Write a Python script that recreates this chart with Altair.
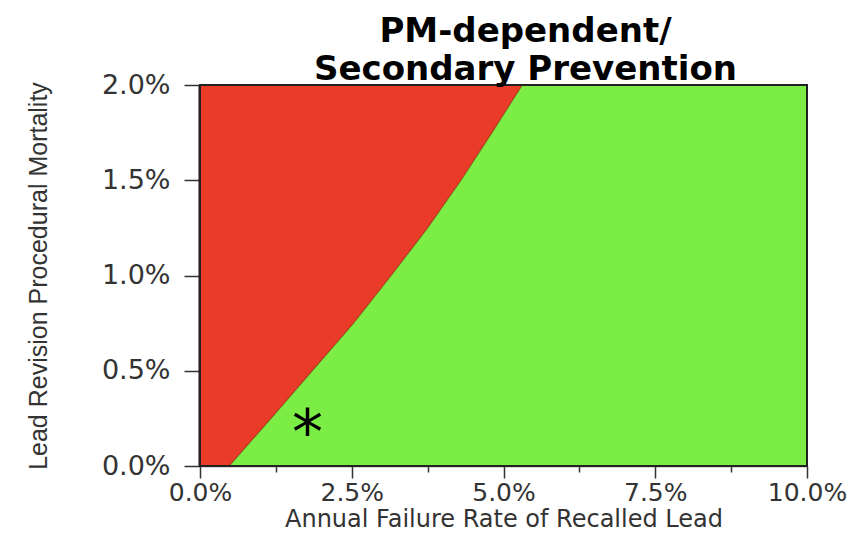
import altair as alt
import pandas as pd

# Boundary between the two regions
mortality = [0.0, 0.0025, 0.005, 0.0075, 0.010, 0.0125, 0.015, 0.0175, 0.020]
failure_boundary = [0.0048, 0.0117, 0.0185, 0.0253, 0.0315, 0.0375, 0.0430, 0.0481, 0.0531]

# Base-case marker
star_x = [0.0177]
star_y = [0.00215]
star_text = ["*"]

# Plot extent
x_range = [0.0, 0.10]
y_range = [0.0, 0.02]

x_ticks = [0.0, 0.0125, 0.025, 0.0375, 0.05, 0.0625, 0.075, 0.0875, 0.10]
y_ticks = [0.0, 0.005, 0.010, 0.015, 0.020]

RED = "#E93B28"
GREEN = "#7BED44"

bdf = pd.DataFrame({"mort": mortality, "fail": failure_boundary, "zero": [0.0] * len(mortality)})
sdf = pd.DataFrame({"x": star_x, "y": star_y, "t": star_text})
rdf = pd.DataFrame({"x": [x_range[0]], "x2": [x_range[1]], "y": [y_range[0]], "y2": [y_range[1]]})

xscale = alt.Scale(domain=x_range, nice=False, zero=False)
yscale = alt.Scale(domain=y_range, nice=False, zero=False)

xaxis = alt.Axis(
    title="Annual Failure Rate of Recalled Lead",
    values=x_ticks,
    format=".1%",
    labelExpr="(round(datum.value*400) % 10 == 0) ? datum.label : ''",
    tickSize={"condition": {"test": "round(datum.value*400) % 10 == 0", "value": 12}, "value": 6},
    labelPadding=2,
    labelFlush=False,
    labelOverlap=False,
    labelFont="DejaVu Sans",
    labelFontSize=25,
    labelColor="#333333",
    titleFont="DejaVu Sans",
    titleFontSize=24,
    titleFontWeight="normal",
    titleColor="#333333",
    titlePadding=2,
    tickColor="#333333",
    tickWidth=1.5,
    domainColor="#666666",
    domainWidth=1.5,
    grid=False,
)

yaxis = alt.Axis(
    title="Lead Revision Procedural Mortality",
    values=y_ticks,
    format=".1%",
    tickSize=16,
    labelPadding=14,
    labelFlush=False,
    labelOverlap=False,
    labelFont="DejaVu Sans",
    labelFontSize=27,
    labelColor="#333333",
    titleFont="Liberation Sans",
    titleFontSize=25,
    titleFontWeight="normal",
    titleColor="#333333",
    titlePadding=50,
    tickColor="#333333",
    tickWidth=1.5,
    domainColor="#3a1008",
    domainWidth=4,
    grid=False,
)

green = alt.Chart(rdf).mark_rect(color=GREEN).encode(
    x=alt.X("x:Q", scale=xscale, axis=xaxis),
    x2="x2:Q",
    y=alt.Y("y:Q", scale=yscale, axis=yaxis),
    y2="y2:Q",
)

red = alt.Chart(bdf).mark_area(orient="horizontal", color=RED, interpolate="linear").encode(
    y=alt.Y("mort:Q", scale=yscale),
    x=alt.X("fail:Q", scale=xscale),
    x2="zero:Q",
)

edge = alt.Chart(bdf).mark_line(color="#7a2a10", strokeWidth=1.2, opacity=0.5).encode(
    y=alt.Y("mort:Q", scale=yscale),
    x=alt.X("fail:Q", scale=xscale),
    order="mort:Q",
)

outline = alt.Chart(rdf).mark_rect(fillOpacity=0, stroke="#222222", strokeWidth=2).encode(
    x=alt.X("x:Q", scale=xscale),
    x2="x2:Q",
    y=alt.Y("y:Q", scale=yscale),
    y2="y2:Q",
)

star = alt.Chart(sdf).mark_text(
    font="DejaVu Sans", fontSize=62, color="black", baseline="alphabetic", align="center", dy=29
).encode(
    x=alt.X("x:Q", scale=xscale),
    y=alt.Y("y:Q", scale=yscale),
    text="t:N",
)

chart = (
    alt.layer(green, red, edge, outline, star)
    .properties(
        width=607,
        height=381,
        title=alt.TitleParams(
            text=["PM-dependent/", "Secondary Prevention"],
            font="DejaVu Sans",
            fontSize=34,
            fontWeight="bold",
            color="black",
            anchor="middle",
            dx=22,
            offset=-16,
            lineHeight=38,
        ),
        autosize=alt.AutoSizeParams(type="none"),
        padding={"left": 192, "top": 77, "right": 51, "bottom": 66},
    )
    .configure_view(stroke=None)
    .configure(background="white")
)

chart.save("out.html", embed_options={"renderer": "svg", "actions": False})
